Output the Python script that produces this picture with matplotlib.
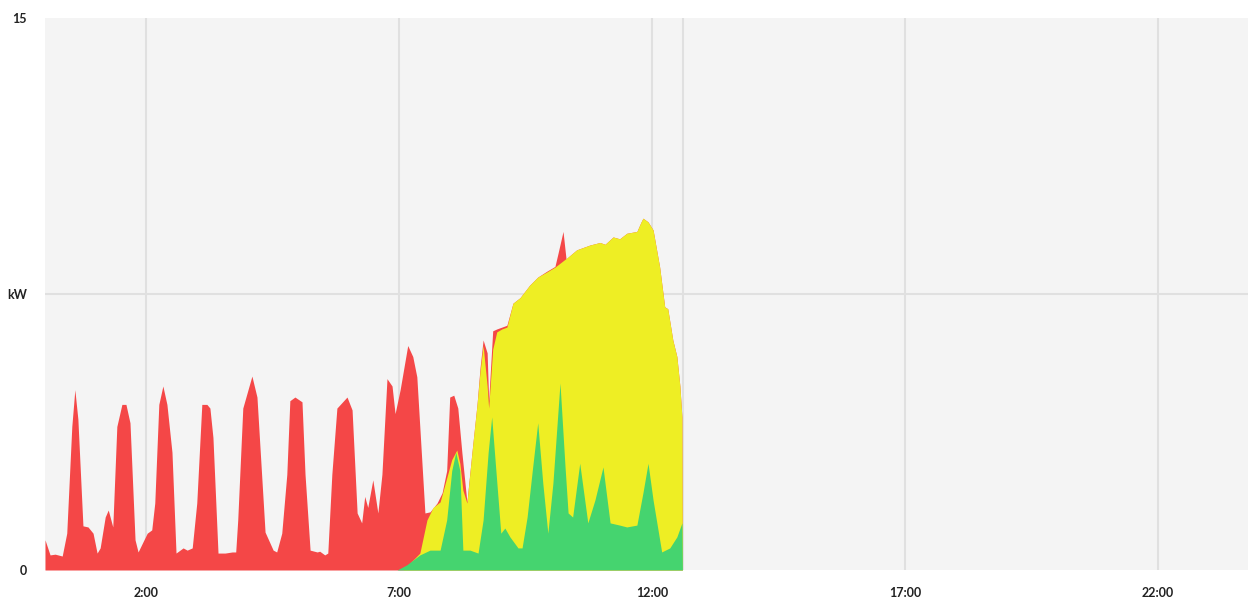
import matplotlib
matplotlib.use("Agg")
import matplotlib.pyplot as plt

# ---------- data (hours of day, kW) ----------
red_t = [0.00, 0.10, 0.20, 0.34, 0.43, 0.53, 0.59, 0.65, 0.75, 0.85, 0.95, 1.03, 1.09,
         1.19, 1.25, 1.34, 1.42, 1.52, 1.60, 1.68, 1.78, 1.84, 2.02, 2.11, 2.17, 2.25,
         2.33, 2.41, 2.51, 2.59, 2.73, 2.81, 2.91, 3.00, 3.10, 3.20, 3.26, 3.32, 3.42,
         3.56, 3.70, 3.77, 3.81, 3.91, 4.09, 4.19, 4.35, 4.51, 4.58, 4.68, 4.78, 4.84,
         4.94, 5.08, 5.14, 5.24, 5.38, 5.43, 5.53, 5.59, 5.67, 5.77, 5.97, 6.07, 6.17,
         6.26, 6.32, 6.38, 6.48, 6.58, 6.66, 6.76, 6.86, 6.92, 7.02, 7.17, 7.27, 7.35,
         7.51, 7.61, 7.75, 7.85, 7.94, 8.00, 8.08, 8.16, 8.24, 8.34, 8.44, 8.54, 8.60,
         8.66, 8.74, 8.77, 8.85, 8.93, 9.03, 9.13, 9.25, 9.39, 9.58, 9.74, 9.92, 10.08,
         10.14, 10.24, 10.30, 10.38, 10.51, 10.77, 10.97, 11.07, 11.23, 11.36, 11.50,
         11.70, 11.78, 11.82, 11.92, 12.02, 12.15, 12.25, 12.31, 12.41, 12.49, 12.55,
         12.59, 12.60]
red_v = [0.82, 0.41, 0.43, 0.38, 1.0, 3.9, 4.9, 4.1, 1.2, 1.17, 1.0, 0.46, 0.6,
         1.44, 1.63, 1.17, 3.9, 4.5, 4.5, 4.0, 0.82, 0.49, 1.0, 1.09, 1.82, 4.5,
         5.0, 4.5, 3.2, 0.46, 0.6, 0.54, 0.6, 1.82, 4.5, 4.5, 4.4, 3.6, 0.46,
         0.46, 0.49, 0.49, 1.36, 4.4, 5.27, 4.7, 1.03, 0.54, 0.49, 1.0, 2.6, 4.6,
         4.7, 4.57, 2.6, 0.54, 0.49, 0.51, 0.41, 0.46, 2.6, 4.4, 4.7, 4.35, 1.55,
         1.28, 2.0, 1.7, 2.45, 1.55, 2.6, 5.2, 5.0, 4.25, 4.9, 6.1, 5.8, 5.25,
         1.55, 1.58, 1.82, 2.1, 2.7, 4.7, 4.75, 4.4, 3.2, 1.85, 3.2, 4.5, 5.5,
         6.25, 5.9, 4.6, 6.5, 6.55, 6.6, 6.65, 7.25, 7.4, 7.74, 7.96, 8.12, 8.25,
         8.6, 9.2, 8.45, 8.55, 8.7, 8.83, 8.9, 8.85, 9.05, 9.0, 9.15,
         9.2, 9.45, 9.56, 9.46, 9.24, 8.23, 7.15, 7.1, 6.25, 5.8, 5.0,
         4.16, 0.0]

yellow_t = [7.08, 7.41, 7.55, 7.67, 7.81, 7.94, 8.04, 8.14, 8.20, 8.26, 8.34, 8.44,
            8.54, 8.60, 8.66, 8.74, 8.77, 8.85, 8.93, 9.03, 9.13, 9.25, 9.39, 9.58,
            9.74, 9.92, 10.08, 10.24, 10.38, 10.51, 10.77, 10.97, 11.07, 11.23, 11.36,
            11.50, 11.70, 11.78, 11.82, 11.92, 12.02, 12.15, 12.25, 12.31, 12.41,
            12.49, 12.55, 12.59, 12.60]
yellow_v = [0.0, 0.46, 1.36, 1.7, 1.85, 2.5, 3.0, 3.26, 2.9, 2.17, 1.82, 3.2,
            4.5, 5.4, 6.1, 5.0, 4.4, 6.0, 6.47, 6.55, 6.6, 7.25, 7.4, 7.74,
            7.96, 8.1, 8.23, 8.4, 8.55, 8.7, 8.83, 8.9, 8.85, 9.05, 9.0,
            9.15, 9.2, 9.45, 9.56, 9.46, 9.24, 8.23, 7.15, 7.1, 6.25,
            5.8, 5.0, 4.16, 0.0]

green_t = [6.96, 7.15, 7.41, 7.61, 7.81, 7.94, 8.04, 8.12, 8.20, 8.26, 8.40, 8.56,
           8.66, 8.76, 8.83, 8.93, 9.01, 9.09, 9.19, 9.35, 9.43, 9.53, 9.64, 9.74,
           9.84, 9.94, 10.04, 10.18, 10.28, 10.34, 10.43, 10.57, 10.73, 10.87, 11.03,
           11.17, 11.36, 11.50, 11.70, 11.82, 11.92, 12.02, 12.19, 12.35, 12.49,
           12.59, 12.60]
green_v = [0.0, 0.14, 0.41, 0.54, 0.54, 1.36, 2.7, 3.2, 2.7, 0.54, 0.54, 0.46,
           1.36, 3.2, 4.16, 2.4, 1.0, 1.14, 0.9, 0.6, 0.6, 1.44, 2.8, 4.0,
           2.36, 1.0, 2.36, 5.08, 2.8, 1.55, 1.44, 2.9, 1.28, 1.9, 2.8,
           1.28, 1.22, 1.17, 1.22, 2.1, 2.9, 1.9, 0.49, 0.6, 0.9,
           1.28, 0.0]

hour_ticks = [2, 7, 12, 17, 22]
hour_labels = ["2:00", "7:00", "12:00", "17:00", "22:00"]
now_hour = 12.61

# ---------- plot ----------
fig = plt.figure(figsize=(12.48, 5.97), dpi=100)
ax = fig.add_axes([45 / 1248, 1 - 570 / 597, 1 - 45 / 1248, 552 / 597])
ax.set_facecolor("#f4f4f4")

ax.fill_between(red_t, red_v, 0, color="#f44747", lw=0, zorder=2)
ax.fill_between(yellow_t, yellow_v, 0, color="#eeee24", lw=0, zorder=3)
ax.fill_between(green_t, green_v, 0, color="#45d46f", lw=0, zorder=4)

for h in hour_ticks:
    ax.axvline(h, color="#e0e0e0", lw=1.5, zorder=1)
ax.axvline(now_hour, color="#e0e0e0", lw=1.5, zorder=1)
ax.axhline(7.5, color="#e0e0e0", lw=1.5, zorder=1)

ax.set_xlim(0, 23.78)
ax.set_ylim(0, 15)
ax.set_xticks(hour_ticks)
ax.set_xticklabels(hour_labels)
ax.set_yticks([0, 7.5, 15])
ax.set_yticklabels(["0", "kW", "15"])
ax.tick_params(length=0, labelsize=9, colors="#222222")
ax.tick_params(axis="x", pad=12)
ax.tick_params(axis="y", pad=13)
for lab in ax.get_xticklabels() + ax.get_yticklabels():
    lab.set_fontweight("bold")
    lab.set_fontfamily("Lato")
for s in ax.spines.values():
    s.set_visible(False)

fig.savefig("out.png", dpi=100)
